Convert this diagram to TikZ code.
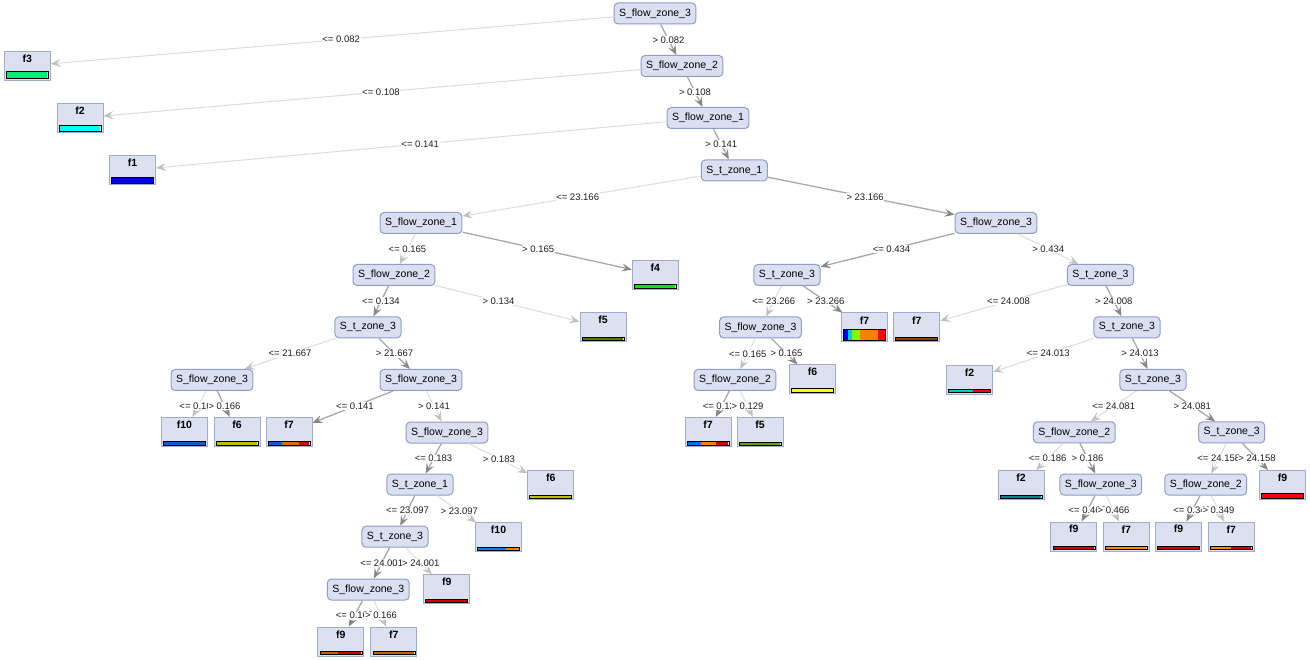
\documentclass[tikz,border=0pt]{standalone}
\usepackage{fontspec}
\setmainfont{Liberation Sans}
\usetikzlibrary{arrows.meta,calc}
\pgfdeclarelayer{fg}
\pgfsetlayers{main,fg}
\definecolor{nfill}{RGB}{218,224,242}
\definecolor{nborder}{RGB}{143,158,194}
\definecolor{lfill}{RGB}{219,225,240}
\definecolor{lborder}{RGB}{160,172,200}
\definecolor{hline}{RGB}{168,168,168}
\definecolor{harrow}{RGB}{135,135,135}
\definecolor{lline}{RGB}{220,220,220}
\definecolor{larrow}{RGB}{192,192,192}
\definecolor{labtext}{RGB}{30,30,30}
\definecolor{cgreen3}{RGB}{0,235,120}
\definecolor{ccyan}{RGB}{0,255,255}
\definecolor{cblue}{RGB}{0,0,230}
\definecolor{cgreen}{RGB}{0,230,0}
\definecolor{colive}{RGB}{70,130,0}
\definecolor{cazure}{RGB}{0,200,255}
\definecolor{clime}{RGB}{128,255,0}
\definecolor{corange}{RGB}{255,128,0}
\definecolor{cred}{RGB}{255,0,0}
\definecolor{cbrown}{RGB}{140,60,10}
\definecolor{cyellow}{RGB}{255,255,0}
\definecolor{ccyan2}{RGB}{0,200,200}
\definecolor{cblue2}{RGB}{20,90,200}
\definecolor{cyolive}{RGB}{190,190,0}
\definecolor{corange2}{RGB}{220,110,0}
\definecolor{cred2}{RGB}{210,0,0}
\definecolor{cblue3}{RGB}{0,110,230}
\definecolor{colive2}{RGB}{100,160,0}
\definecolor{cteal}{RGB}{0,140,140}
\definecolor{cazure2}{RGB}{0,128,255}
\definecolor{corange3}{RGB}{255,140,0}
\definecolor{cbrorange}{RGB}{200,100,0}
\tikzset{
  inode/.style={draw=nborder, fill=nfill, line width=1pt, rounded corners=4pt,
    minimum height=21pt, inner xsep=5pt, inner ysep=0pt,
    font=\fontsize{10.5}{12}\selectfont},
  leafbox/.style={draw=lborder, fill=lfill, line width=1pt, minimum width=46pt,
    minimum height=29pt, inner sep=0pt},
  leaflab/.style={font=\bfseries\fontsize{10.5}{12}\selectfont, inner sep=0pt},
  elab/.style={font=\fontsize{9.5}{11}\selectfont, text=labtext, fill=white, inner sep=0.6pt},
  hedge/.style={draw=hline, line width=1.3pt,
    -{Stealth[length=10pt,width=8pt,inset=4pt,color=harrow]}},
  ledge/.style={draw=lline, line width=1pt,
    -{Stealth[length=10pt,width=8pt,inset=4pt,color=larrow]}},
}
\newcommand{\tleaf}[5]{%
  \node[leafbox] (#1) at (#2) {};
  \node[leaflab] at ([yshift=-7.7pt]#1.north) {#3};
  \foreach \bc/\ba/\bb in {#5} {
    \fill[\bc] ([xshift=2.5pt+\ba*41pt, yshift=2pt]#1.south west) rectangle
               ([xshift=2.5pt+\bb*41pt, yshift=2pt+#4pt]#1.south west);
  }
  \draw[line width=0.5pt, black] ([xshift=2.5pt,yshift=2pt]#1.south west) rectangle
        ([xshift=-2.5pt,yshift=2pt+#4pt]#1.south east);
}
\newcommand{\tedge}[4]{%
  \draw[#1] (#2) -- (#3);
  \begin{pgfonlayer}{fg}
    \node[elab] at ($(#2.center)!.5!(#3.center)$) {#4};
  \end{pgfonlayer}
}
\begin{document}
\begin{tikzpicture}[x=1pt,y=-1pt]
\fill[white] (0,0) rectangle (1310,660);
\useasboundingbox (0,0) rectangle (1310,660);
% internal nodes
\node[inode] (r)  at (655,13.5)    {S\_flow\_zone\_3};
\node[inode] (a1) at (682,66)      {S\_flow\_zone\_2};
\node[inode] (a2) at (708,118)     {S\_flow\_zone\_1};
\node[inode] (a3) at (734.3,170.5) {S\_t\_zone\_1};
\node[inode] (b1) at (421,223)     {S\_flow\_zone\_1};
\node[inode] (c1) at (996,223)     {S\_flow\_zone\_3};
\node[inode] (b2) at (394,275)     {S\_flow\_zone\_2};
\node[inode] (c2) at (787,275)     {S\_t\_zone\_3};
\node[inode] (d2) at (1100.5,275)  {S\_t\_zone\_3};
\node[inode] (b3) at (368,327.3)   {S\_t\_zone\_3};
\node[inode] (c3) at (760.5,327.5) {S\_flow\_zone\_3};
\node[inode] (d3) at (1127,327.3)  {S\_t\_zone\_3};
\node[inode] (b4) at (212,380)     {S\_flow\_zone\_3};
\node[inode] (b5) at (421,380)     {S\_flow\_zone\_3};
\node[inode] (c4) at (735,380)     {S\_flow\_zone\_2};
\node[inode] (d4) at (1153,380)    {S\_t\_zone\_3};
\node[inode] (b6) at (447,432.5)   {S\_flow\_zone\_3};
\node[inode] (d5) at (1074.3,432.3) {S\_flow\_zone\_2};
\node[inode] (d6) at (1231.7,432.3) {S\_t\_zone\_3};
\node[inode] (b7) at (420,484.5)   {S\_t\_zone\_1};
\node[inode] (d7) at (1100.8,484.5) {S\_flow\_zone\_3};
\node[inode] (d8) at (1205.8,484.5) {S\_flow\_zone\_2};
\node[inode] (b8) at (395,536.7)   {S\_t\_zone\_3};
\node[inode] (b9) at (368.3,589.5) {S\_flow\_zone\_3};
% leaves
\tleaf{lf3}{27.3,65.7}{f3}{7.5}{cgreen3/0/1}
\tleaf{lf2}{80,118}{f2}{5.5}{ccyan/0/1}
\tleaf{lf1}{132.5,170}{f1}{5.5}{cblue/0/1}
\tleaf{lf4}{655.3,274.8}{f4}{3.6}{cgreen/0/1}
\tleaf{lf5}{603,327.5}{f5}{3}{colive/0/1}
\tleaf{lf7r}{864.5,327.5}{f7}{11.5}{cblue/0/0.11, cazure/0.11/0.2, clime/0.2/0.41, corange/0.41/0.85, cred/0.85/1}
\tleaf{lf7b}{916.7,327.5}{f7}{3}{cbrown/0/1}
\tleaf{lf6y}{812.5,379.5}{f6}{4.5}{cyellow/0/1}
\tleaf{lf2c}{969.5,379.7}{f2}{3}{ccyan2/0/0.6, cred/0.6/1}
\tleaf{lf10a}{184.5,432}{f10}{3.4}{cblue2/0/1}
\tleaf{lf6a}{237,432}{f6}{3.4}{cyolive/0/1}
\tleaf{lf7a}{289,432}{f7}{3.4}{cblue2/0/0.35, corange2/0.35/0.75, cred2/0.75/1}
\tleaf{lf7m}{708,432}{f7}{3.4}{cblue3/0/0.33, corange/0.33/0.7, cred2/0.7/1}
\tleaf{lf5m}{760,432}{f5}{3}{colive2/0/1}
\tleaf{lf6b}{550.7,485}{f6}{3}{cyolive/0/1}
\tleaf{lf2t}{1021,485}{f2}{3}{cteal/0/1}
\tleaf{lf9r}{1282.5,485}{f9}{5}{cred/0/1}
\tleaf{lf10b}{498.5,537.2}{f10}{3.4}{cazure2/0/0.7, corange/0.7/1}
\tleaf{lf9a}{1073.8,536.5}{f9}{3.4}{cred2/0/1}
\tleaf{lf7c}{1126.3,536.5}{f7}{3.4}{corange3/0/1}
\tleaf{lf9b}{1178.5,536.5}{f9}{3.4}{cred2/0/1}
\tleaf{lf7d}{1231.2,536.5}{f7}{3.4}{corange3/0/0.5, cred2/0.5/1}
\tleaf{lf9c}{446.7,589.3}{f9}{3.4}{cred2/0/1}
\tleaf{lf9d}{340.8,641.7}{f9}{3.4}{cbrorange/0/0.45, cred2/0.45/1}
\tleaf{lf7e}{393.8,641.7}{f7}{3.4}{cbrorange/0/1}
% edges
\tedge{ledge}{r}{lf3}{<= 0.082}
\tedge{hedge}{r}{a1}{> 0.082}
\tedge{ledge}{a1}{lf2}{<= 0.108}
\tedge{hedge}{a1}{a2}{> 0.108}
\tedge{ledge}{a2}{lf1}{<= 0.141}
\tedge{hedge}{a2}{a3}{> 0.141}
\tedge{ledge}{a3}{b1}{<= 23.166}
\tedge{hedge}{a3}{c1}{> 23.166}
\tedge{ledge}{b1}{b2}{<= 0.165}
\tedge{hedge}{b1}{lf4}{> 0.165}
\tedge{hedge}{c1}{c2}{<= 0.434}
\tedge{ledge}{c1}{d2}{> 0.434}
\tedge{hedge}{b2}{b3}{<= 0.134}
\tedge{ledge}{b2}{lf5}{> 0.134}
\tedge{ledge}{c2}{c3}{<= 23.266}
\tedge{hedge}{c2}{lf7r}{> 23.266}
\tedge{ledge}{d2}{lf7b}{<= 24.008}
\tedge{hedge}{d2}{d3}{> 24.008}
\tedge{ledge}{b3}{b4}{<= 21.667}
\tedge{hedge}{b3}{b5}{> 21.667}
\tedge{ledge}{c3}{c4}{<= 0.165}
\tedge{hedge}{c3}{lf6y}{> 0.165}
\tedge{ledge}{d3}{lf2c}{<= 24.013}
\tedge{hedge}{d3}{d4}{> 24.013}
\tedge{ledge}{b4}{lf10a}{<= 0.166}
\tedge{hedge}{b4}{lf6a}{> 0.166}
\tedge{hedge}{b5}{lf7a}{<= 0.141}
\tedge{ledge}{b5}{b6}{> 0.141}
\tedge{hedge}{c4}{lf7m}{<= 0.129}
\tedge{ledge}{c4}{lf5m}{> 0.129}
\tedge{ledge}{d4}{d5}{<= 24.081}
\tedge{hedge}{d4}{d6}{> 24.081}
\tedge{hedge}{b6}{b7}{<= 0.183}
\tedge{ledge}{b6}{lf6b}{> 0.183}
\tedge{ledge}{d5}{lf2t}{<= 0.186}
\tedge{hedge}{d5}{d7}{> 0.186}
\tedge{ledge}{d6}{d8}{<= 24.158}
\tedge{hedge}{d6}{lf9r}{> 24.158}
\tedge{hedge}{b7}{b8}{<= 23.097}
\tedge{ledge}{b7}{lf10b}{> 23.097}
\tedge{hedge}{d7}{lf9a}{<= 0.466}
\tedge{ledge}{d7}{lf7c}{> 0.466}
\tedge{hedge}{d8}{lf9b}{<= 0.349}
\tedge{ledge}{d8}{lf7d}{> 0.349}
\tedge{hedge}{b8}{b9}{<= 24.001}
\tedge{ledge}{b8}{lf9c}{> 24.001}
\tedge{hedge}{b9}{lf9d}{<= 0.166}
\tedge{ledge}{b9}{lf7e}{> 0.166}
\end{tikzpicture}
\end{document}
